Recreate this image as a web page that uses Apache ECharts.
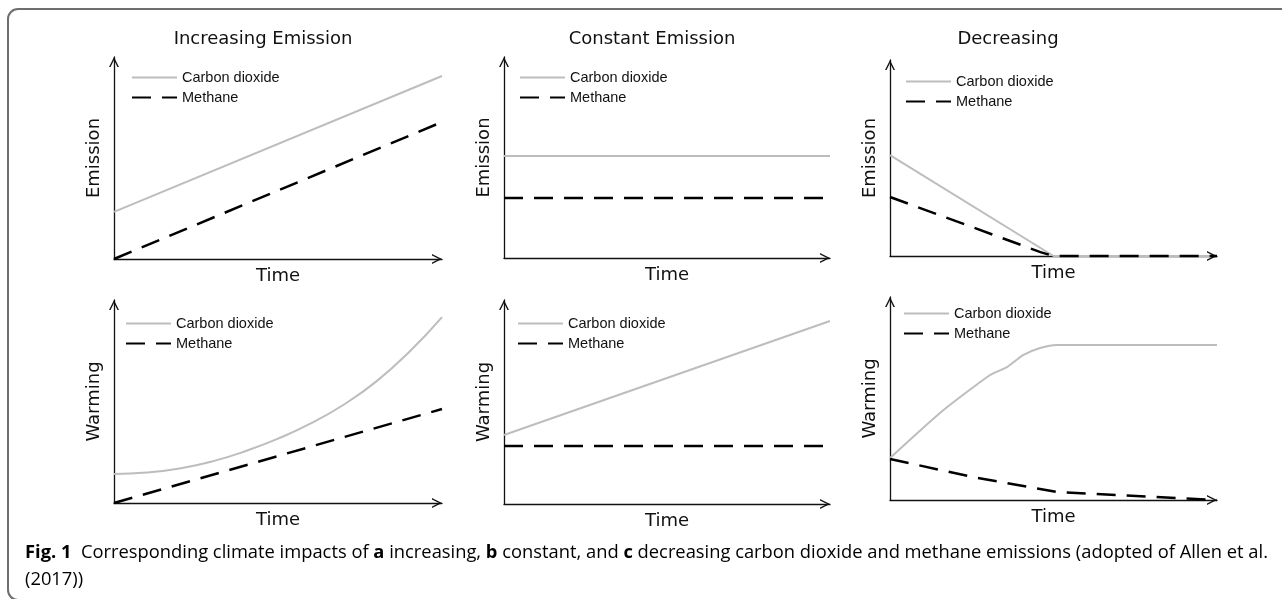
<!DOCTYPE html>
<html>
<head>
<meta charset="utf-8">
<script src="https://cdn.jsdelivr.net/npm/echarts@6/dist/echarts.min.js"></script>
<style>
html,body{margin:0;padding:0;background:#fff;}
#chart{width:1282px;height:599px;}
</style>
</head>
<body>
<div id="chart"></div>
<script>
// ---- data (time 0..100, value 0..100 relative to each axis) ----
const panelTitles = ['Increasing Emission', 'Constant Emission', 'Decreasing'];
const yNames = ['Emission', 'Emission', 'Emission', 'Warming', 'Warming', 'Warming'];
const xName = 'Time';
const seriesNames = ['Carbon dioxide', 'Methane'];

const incEmisCO2 = [[0, 23.3], [100, 90.6]];
const incEmisCH4 = [[0, 0], [100, 67.8]];
const conEmisCO2 = [[0, 50.7], [100, 50.7]];
const conEmisCH4 = [[0, 29.9], [100, 29.9]];
const decEmisCO2 = [[0, 51.5], [50, 0], [100, 0]];
const decEmisCH4 = [[0, 30.1], [46, 2], [50, 0], [100, 0]];

const incWarmCO2 = [[0, 14.3], [10, 15], [20, 17], [30, 20.5], [40, 25.5], [50, 31.7], [60, 39.2], [70, 48.4], [80, 59.9], [90, 74.4], [100, 91.6]];
const incWarmCH4 = [[0, 0], [100, 46.3]];
const conWarmCO2 = [[0, 33.8], [100, 89.7]];
const conWarmCH4 = [[0, 28.4], [100, 28.4]];
const decWarmCO2 = [[0, 20.7], [15.3, 42.9], [30.6, 61.6], [35.8, 65.5], [40.7, 71.4], [45.9, 74.9], [51.1, 76.4], [100, 76.4]];
const decWarmCH4 = [[0, 20.2], [25.4, 11.3], [45.9, 5.4], [51.1, 3.9], [100, 0]];

const captionLine1 = [
  ['Fig. 1', 'b'], ['  Corresponding climate impacts of ', 'n'], ['a', 'b'], [' increasing, ', 'n'],
  ['b', 'b'], [' constant, and ', 'n'], ['c', 'b'],
  [' decreasing carbon dioxide and methane emissions (adopted of Allen et al.', 'n']
];
const captionLine2 = [['(', 'n'], ['2017', 'l'], ['))', 'n']];

const panelData = [
  [incEmisCO2, incEmisCH4], [conEmisCO2, conEmisCH4], [decEmisCO2, decEmisCH4],
  [incWarmCO2, incWarmCH4], [conWarmCO2, conWarmCH4], [decWarmCO2, decWarmCH4]
];
const smoothFlags = [false, false, false, 0.5, false, 0.2];

// ---- layout ----
const grids = [
  {left: 114, top: 57, width: 328, height: 202},
  {left: 504, top: 57, width: 326, height: 201},
  {left: 890, top: 60, width: 327, height: 196},
  {left: 114, top: 300, width: 328, height: 203},
  {left: 504, top: 300, width: 326, height: 204},
  {left: 890, top: 297, width: 327, height: 203}
];
const titlePos = [{x: 263, y: 30}, {x: 652, y: 30}, {x: 1008, y: 30}];
const legendPos = [
  {left: 131, top: 70}, {left: 519, top: 70}, {left: 905, top: 74},
  {left: 125, top: 316}, {left: 517, top: 316}, {left: 903, top: 306}
];

const chevron = 'path://M0,10 L5,0 L10,10 L8.5,10 L5,3 L1.5,10 Z';
const axisColor = '#111';
const labelFont = 'DejaVu Sans';
const co2Color = '#bdbdbd';
const ch4Color = '#000000';

function axisLineCfg() {
  return {
    show: true, onZero: false,
    symbol: ['none', chevron], symbolSize: [11, 10], symbolOffset: [0, -5],
    lineStyle: {color: axisColor, width: 1.3}
  };
}

const option = {
  animation: false,
  backgroundColor: '#ffffff',
  title: panelTitles.map((t, i) => ({
    text: t, left: titlePos[i].x, top: titlePos[i].y, textAlign: 'center', padding: 0,
    textStyle: {fontFamily: labelFont, fontSize: 18, fontWeight: 'normal', color: '#111'}
  })),
  grid: grids.map(g => Object.assign({containLabel: false}, g)),
  xAxis: grids.map((g, i) => ({
    type: 'value', gridIndex: i, min: 0, max: 100,
    axisLine: axisLineCfg(), axisTick: {show: false}, axisLabel: {show: false}, splitLine: {show: false},
    name: xName, nameLocation: 'middle', nameGap: 8,
    nameTextStyle: {fontFamily: labelFont, fontSize: 18, color: '#111'}
  })),
  yAxis: grids.map((g, i) => ({
    type: 'value', gridIndex: i, min: 0, max: 100,
    axisLine: axisLineCfg(), axisTick: {show: false}, axisLabel: {show: false}, splitLine: {show: false},
    name: yNames[i], nameLocation: 'middle', nameRotate: 90, nameGap: 11,
    nameTextStyle: {fontFamily: labelFont, fontSize: 18, color: '#111'}
  })),
  legend: legendPos.map(p => ({
    data: seriesNames, orient: 'vertical', left: p.left, top: p.top, padding: 0,
    itemWidth: 45, itemHeight: 14, itemGap: 5, selectedMode: false,
    itemStyle: {opacity: 0},
    textStyle: {fontFamily: 'Liberation Sans', fontSize: 14.5, color: '#111'}
  })),
  series: [],
  graphic: []
};

panelData.forEach((pair, i) => {
  option.series.push({
    name: seriesNames[0], type: 'line', xAxisIndex: i, yAxisIndex: i, data: pair[0],
    symbol: 'none', smooth: smoothFlags[i], clip: false, silent: true, z: 3,
    lineStyle: {color: co2Color, width: 2}, itemStyle: {color: co2Color}
  });
  option.series.push({
    name: seriesNames[1], type: 'line', xAxisIndex: i, yAxisIndex: i, data: pair[1],
    symbol: 'none', smooth: false, clip: false, silent: true, z: 4,
    lineStyle: {color: ch4Color, width: 2.5, type: [19, 11]}, itemStyle: {color: ch4Color}
  });
});

// ---- caption (condensed look via horizontal scale) ----
const capFont = 'Open Sans';
const capSize = 18;
const capColor = '#333';
const measureCtx = document.createElement('canvas').getContext('2d');
function measure(parts) {
  let w = 0;
  parts.forEach(([t, s]) => {
    measureCtx.font = (s === 'b' ? 'bold ' : '') + capSize + 'px "' + capFont + '"';
    w += measureCtx.measureText(t).width;
  });
  return w;
}
const capScale = 1243 / measure(captionLine1);
const rich = {
  n: {fontFamily: capFont, fontSize: capSize, color: capColor},
  b: {fontFamily: capFont, fontSize: capSize, color: '#111', fontWeight: 'bold'},
  l: {fontFamily: capFont, fontSize: capSize, color: '#3535e0'}
};
function richText(parts) {
  return parts.map(([t, s]) => '{' + s + '|' + t.replace(/[{}|]/g, '') + '}').join('');
}
option.graphic = [
  {type: 'rect', silent: true, z: -10,
   shape: {x: 8, y: 9, width: 1400, height: 591, r: 10},
   style: {fill: 'none', stroke: '#6e6e6e', lineWidth: 2}},
  {type: 'text', x: 25, y: 553, scaleX: capScale, scaleY: 1, silent: true,
   style: {text: richText(captionLine1), rich: rich, verticalAlign: 'middle', align: 'left',
           fontFamily: capFont, fontSize: capSize}},
  {type: 'text', x: 25, y: 580, scaleX: capScale, scaleY: 1, silent: true,
   style: {text: richText(captionLine2), rich: rich, verticalAlign: 'middle', align: 'left',
           fontFamily: capFont, fontSize: capSize}}
];

const chart = echarts.init(document.getElementById('chart'), null, {renderer: 'canvas'});
chart.setOption(option);
</script>
</body>
</html>
